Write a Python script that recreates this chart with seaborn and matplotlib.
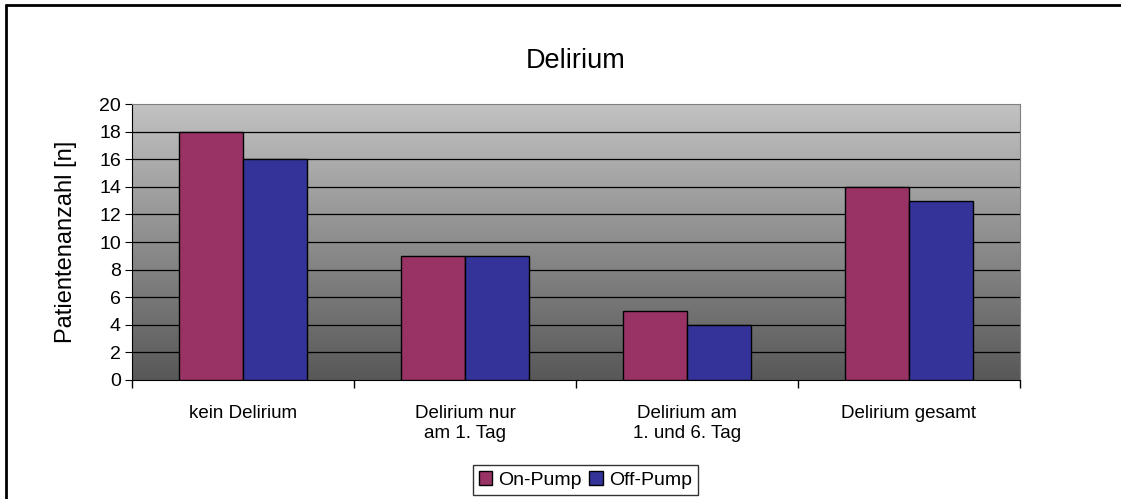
import numpy as np
import pandas as pd
import matplotlib
matplotlib.use("Agg")
import matplotlib.pyplot as plt
import seaborn as sns
from matplotlib.patches import Patch
from matplotlib.lines import Line2D

# ---------------- Data ----------------
categories = ["kein Delirium", "Delirium nur\nam 1. Tag", "Delirium am\n1. und 6. Tag", "Delirium gesamt"]
on_pump = [18, 9, 5, 14]
off_pump = [16, 9, 4, 13]
groups = ["On-Pump", "Off-Pump"]
colors = ["#993366", "#333399"]

df = pd.DataFrame({
    "Kategorie": categories * 2,
    "Gruppe": [groups[0]] * 4 + [groups[1]] * 4,
    "Wert": on_pump + off_pump,
})

# ---------------- Plot ----------------
sns.set_style("white")
plt.rcParams["font.family"] = ["Liberation Sans", "DejaVu Sans"]
plt.rcParams["text.color"] = "black"
plt.rcParams["axes.labelcolor"] = "black"
plt.rcParams["xtick.color"] = "black"
plt.rcParams["ytick.color"] = "black"

fig = plt.figure(figsize=(11.21, 4.99), dpi=100)
ax = fig.add_axes([0.1178, 0.2385, 0.792, 0.553])

# gradient background
grad = np.linspace(0, 1, 256).reshape(-1, 1)
cmap = matplotlib.colors.LinearSegmentedColormap.from_list("g", ["#c2c2c2", "#585858"])
ax.imshow(grad, cmap=cmap, aspect="auto", extent=[0, 1, 0, 1],
          transform=ax.transAxes, zorder=0)

sns.barplot(data=df, x="Kategorie", y="Wert", hue="Gruppe", palette=colors,
            saturation=1, width=0.577, gap=0, edgecolor="black", linewidth=1,
            ax=ax, legend=False, zorder=3)

ax.set_xlim(-0.5, 3.5)
ax.set_ylim(0, 20)
ax.set_yticks(range(0, 21, 2))
for y in range(2, 20, 2):
    ax.axhline(y, color="black", lw=0.9, zorder=1)

ax.set_xticks([-0.5, 0.5, 1.5, 2.5, 3.5])
ax.set_xticklabels([])
ax.set_xticks(range(4), minor=True)
ax.set_xticklabels(categories, minor=True, fontsize=13.5)
ax.tick_params(axis="x", which="minor", length=0, pad=18)
ax.tick_params(axis="x", which="major", direction="out", length=6, color="black",
               width=1, bottom=True)
ax.tick_params(axis="y", direction="out", length=5, color="black", labelsize=14,
               left=True, pad=3)

for s in ["top", "right"]:
    ax.spines[s].set_color("#808080")
ax.spines["left"].set_color("black")
ax.spines["bottom"].set_color("black")

ax.set_xlabel("")
ax.set_ylabel("Patientenanzahl [n]", fontsize=17, labelpad=16)
ax.set_title("Delirium", fontsize=19.5, pad=26)

handles = [Patch(facecolor=c, edgecolor="black", label=g) for c, g in zip(colors, groups)]
fig.legend(handles=handles, loc="center", bbox_to_anchor=(0.522, 0.038), ncol=2,
           frameon=True, fancybox=False, edgecolor="black", fontsize=14,
           handlelength=0.7, handleheight=0.7, handletextpad=0.3, columnspacing=0.4,
           borderpad=0.3)

# figure border (left and top)
fig.add_artist(Line2D([0.0054, 0.0054], [0, 0.99], transform=fig.transFigure, color="black", lw=2))
fig.add_artist(Line2D([0.0054, 1.0], [0.99, 0.99], transform=fig.transFigure, color="black", lw=2))

fig.savefig("out.png", dpi=100)
